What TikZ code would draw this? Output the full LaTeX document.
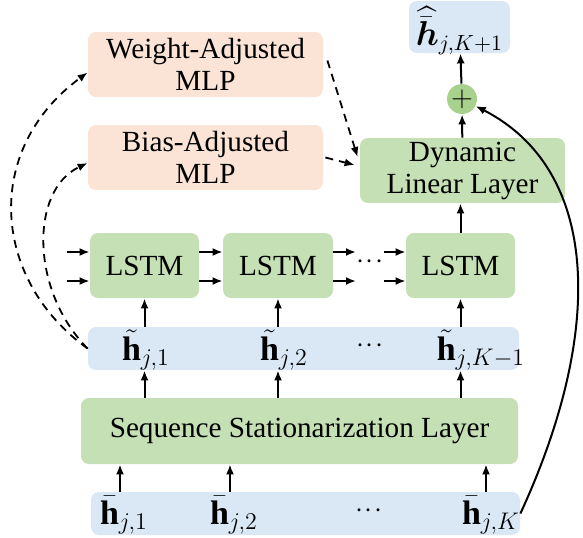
\documentclass[tikz,border=0pt]{standalone}
\usepackage{amsmath}
\usepackage{bm}
\usepackage{fontspec}
\setmainfont{Liberation Serif}
\usepackage{tikz}
\usetikzlibrary{arrows.meta,positioning,calc}
\definecolor{mlporange}{RGB}{251,228,214}
\definecolor{layergreen}{RGB}{197,224,180}
\definecolor{plusgreen}{RGB}{169,209,142}
\definecolor{bandblue}{RGB}{218,232,246}
\newcommand{\threedots}{$\cdot\!\cdot\!\cdot$}

\begin{document}
\begin{tikzpicture}[x=0.5pt,y=-0.5pt,
font=\rmfamily\fontsize{14.6}{16}\selectfont,
mlp/.style={fill=mlporange,rounded corners=4pt,minimum width=117.5pt,minimum height=32.5pt,align=center,inner sep=0pt},
layer/.style={fill=layergreen,rounded corners=4pt,minimum height=32.5pt,align=center,inner sep=0pt},
band/.style={fill=bandblue,rounded corners=4pt,minimum height=21.5pt,inner sep=0pt},
vec/.style={font=\fontsize{17}{18}\selectfont,inner sep=1pt},
flow/.style={-{Latex[length=5pt,width=4pt]},line width=1pt},
oneway/.style={-{Latex[length=5pt,width=4pt]},line width=0.9pt,dash pattern=on 4pt off 3pt}]
    \useasboundingbox (0,0) rectangle (583,537);

    % MLP branches and output part
    \node[mlp] (wmlp) at (205.5,64.5) {Weight-Adjusted\\MLP};
    \node[mlp] (bmlp) at (205.5,157.5) {Bias-Adjusted\\MLP};
    \node[band,minimum width=50.5pt,minimum height=26pt] (out) at (459.5,27) {};
    \node[vec,font=\fontsize{16}{17}\selectfont] (hout) at (459.5,31) {$\widehat{\bar{\bm h}}_{j,K+1}$};
    \node[circle,fill=plusgreen,minimum size=15pt,inner sep=0pt] (plus) at (462,99) {$+$};
    \node[layer,minimum width=102.5pt] (dll) at (462.5,170.5) {Dynamic\\Linear Layer};

    % LSTM chain
    \node[layer,minimum width=54.5pt] (lstmA) at (144.5,265.5) {LSTM};
    \node[layer,minimum width=55pt] (lstmB) at (278,265.5) {LSTM};
    \node[layer,minimum width=54.5pt] (lstmC) at (460.5,265.5) {LSTM};
    \node[inner sep=0pt,minimum width=12pt] (ldots) at (370,262) {\threedots};
    \coordinate (inU) at (67,252);
    \coordinate (inL) at (67,281);

    % stationarized sequence
    \node[band,minimum width=215.5pt] (tband) at (303.5,348.5) {};
    \node[vec] (ht1) at (146,350) {$\tilde{\mathbf{h}}_{j,1}$};
    \node[vec] (ht2) at (284,350) {$\tilde{\mathbf{h}}_{j,2}$};
    \node (htd) at (370,346) {\threedots};
    \node[vec] (htK) at (481,350) {$\tilde{\mathbf{h}}_{j,K-1}$};

    \node[layer,minimum width=218.5pt,minimum height=33pt] (ssl) at (299.5,431) {Sequence Stationarization Layer};

    % input sequence
    \node[band,minimum width=214.5pt] (bband) at (305.5,513.5) {};
    \node[vec] (hb1) at (124,515) {$\bar{\mathbf{h}}_{j,1}$};
    \node[vec] (hb2) at (234,515) {$\bar{\mathbf{h}}_{j,2}$};
    \node (hbd) at (369,511) {\threedots};
    \node[vec] (hbK) at (491,515) {$\bar{\mathbf{h}}_{j,K}$};

    % arrows
    \foreach \l/\d in {hb1/-2pt,hb2/-2pt,hbK/-2.5pt}
        \draw[flow] ([xshift=\d]bband.north -| \l) -- ([xshift=\d]ssl.south -| \l);
    \foreach \l in {lstmA,lstmB,lstmC}{
        \draw[flow] (ssl.north -| \l) -- (tband.south -| \l);
        \draw[flow] (tband.north -| \l) -- (\l.south);
    }
    \foreach \r in {inU,inL}{
        \draw[flow] (\r) -- (lstmA.west |- \r);
        \draw[flow] (lstmA.east |- \r) -- (lstmB.west |- \r);
        \draw[flow] (lstmB.east |- \r) -- (ldots.west |- \r);
        \draw[flow] (ldots.east |- \r) -- (lstmC.west |- \r);
    }
    \draw[flow] (lstmC.north) -- (lstmC.north |- dll.south);
    \draw[flow] (dll) -- (plus);
    \draw[flow] (plus) -- (out);
    \draw[flow] (bband.east) .. controls (605,330) and (600,170) .. (plus);

    % dashed branches
    \draw[oneway] (tband.west) .. controls (-8,280) and (-18,150) .. ([yshift=-4pt]wmlp.west);
    \draw[oneway] (tband.west) .. controls (30,290) and (30,190) .. ([yshift=-2.75pt]bmlp.west);
    \draw[oneway] ([xshift=2pt,yshift=2pt]wmlp.east) -- ([xshift=-1pt,yshift=6.75pt]dll.west);
    \draw[oneway] ([xshift=1pt]bmlp.east) -- ([xshift=-2.5pt,yshift=2.75pt]dll.west);
\end{tikzpicture}
\end{document}
